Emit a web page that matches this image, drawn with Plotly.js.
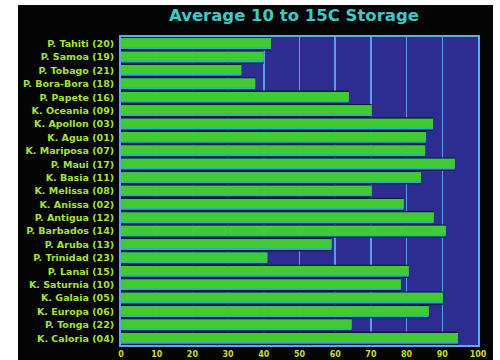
<!DOCTYPE html>
<html>
<head>
<meta charset="utf-8">
<script src="https://cdn.plot.ly/plotly-3.0.1.min.js"></script>
<style>
html,body{margin:0;padding:0;background:#ffffff;width:500px;height:360px;overflow:hidden;}
#chart{position:absolute;left:18px;top:5px;width:475px;height:355px;}
</style>
</head>
<body>
<div id="chart"></div>
<script>
const categories = [
  "P. Tahiti (20)", "P. Samoa (19)", "P. Tobago (21)", "P. Bora-Bora (18)",
  "P. Papete (16)", "K. Oceania (09)", "K. Apollon (03)", "K. Agua (01)",
  "K. Mariposa (07)", "P. Maui (17)", "K. Basia (11)", "K. Melissa (08)",
  "K. Anissa (02)", "P. Antigua (12)", "P. Barbados (14)", "P. Aruba (13)",
  "P. Trinidad (23)", "P. Lanai (15)", "K. Saturnia (10)", "K. Galaia (05)",
  "K. Europa (06)", "P. Tonga (22)", "K. Caloria (04)"
];
const storageValues = [
  42, 40, 33.7, 37.6,
  63.8, 70.2, 87.4, 85.4,
  85.2, 93.5, 84, 70.2,
  79.2, 87.6, 91, 59,
  41, 80.6, 78.4, 90.2,
  86.2, 64.6, 94.4
];
const xTickValues = [0, 10, 20, 30, 40, 50, 60, 70, 80, 90, 100];
const chartTitle = "Average 10 to 15C Storage";

const common = {type: 'bar', orientation: 'h', x: storageValues, y: categories, hoverinfo: 'skip'};
const traces = [
  Object.assign({}, common, {width: 1.0, offset: -0.5, marker: {color: '#0c1a3c', line: {width: 0}}}),
  Object.assign({}, common, {width: 0.8, offset: -0.4, marker: {color: '#2eaec6', line: {width: 0}}}),
  Object.assign({}, common, {width: 0.66, offset: -0.4, marker: {color: '#40cc30', line: {width: 0}}})
];

const layout = {
  width: 475, height: 355,
  paper_bgcolor: '#050505',
  plot_bgcolor: '#2d2d8f',
  barmode: 'overlay',
  showlegend: false,
  margin: {l: 103, r: 15, t: 32, b: 15, pad: 0},
  title: {
    text: chartTitle,
    font: {family: 'DejaVu Sans', size: 16.5, color: '#3fc8c8', weight: 'bold'},
    x: 0.581, xanchor: 'center', xref: 'container',
    y: 0.972, yanchor: 'middle', yref: 'container'
  },
  xaxis: {
    range: [0, 100],
    tickvals: xTickValues,
    ticktext: xTickValues.map(String),
    showgrid: true, gridcolor: '#5a9ae8', gridwidth: 1.5,
    zeroline: false,
    showline: true, mirror: true, linecolor: '#5aaaf0', linewidth: 2,
    ticks: '',
    tickfont: {family: 'DejaVu Sans', size: 8, color: '#d0d838', weight: 'bold'},
    fixedrange: true
  },
  yaxis: {
    type: 'category',
    autorange: 'reversed',
    showgrid: false, zeroline: false,
    showline: true, mirror: true, linecolor: '#5aaaf0', linewidth: 2,
    ticks: '',
    ticklabelstandoff: 3,
    tickfont: {family: 'DejaVu Sans', size: 9.5, color: '#a6e23a', weight: 'bold'},
    fixedrange: true
  }
};

Plotly.newPlot('chart', traces, layout, {staticPlot: true, displayModeBar: false});
</script>
</body>
</html>
